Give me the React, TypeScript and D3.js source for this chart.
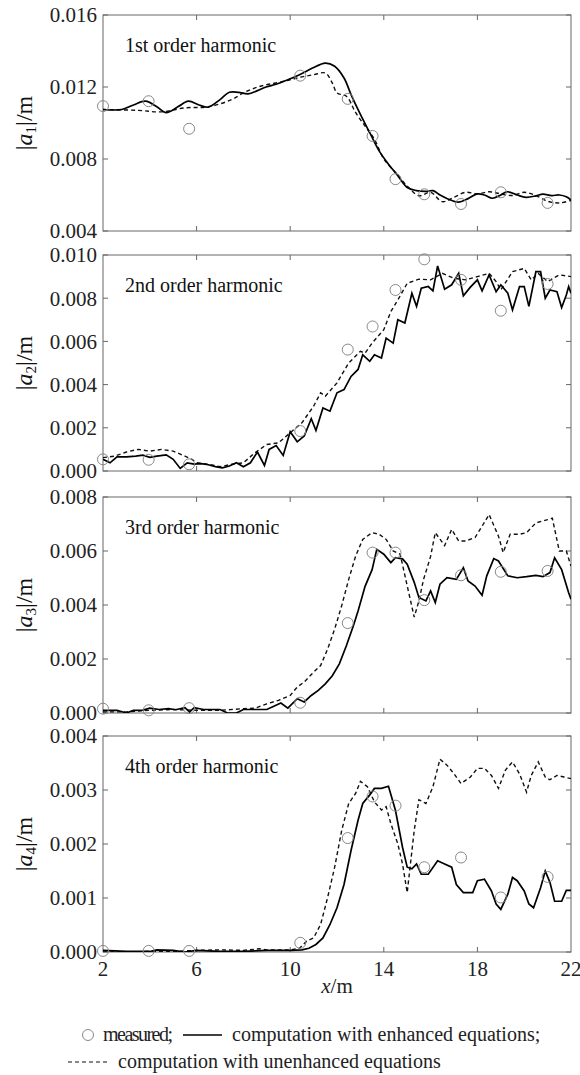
import React from "react";
import * as d3 from "d3";

// measured positions (m), shared by all harmonics
const measuredX = [2, 3.95, 5.68, 10.43, 12.46, 13.52, 14.5, 15.73, 17.3, 19.0, 21.0];

// 1st order harmonic
const a1Measured = [0.01094, 0.01121, 0.00968, 0.01263, 0.01134, 0.00928, 0.00688, 0.00604, 0.0055, 0.00615, 0.00556];
const a1Enhanced: [number, number][] = [
  [2, 0.01075], [2.8, 0.01075], [3.3, 0.011], [3.82, 0.01121], [4.3, 0.0109], [4.7, 0.01057],
  [5.2, 0.0109], [5.65, 0.01121], [6.1, 0.011], [6.5, 0.01088], [7.0, 0.0113], [7.4, 0.01171],
  [7.8, 0.0117], [8.2, 0.01162], [8.6, 0.0118], [8.97, 0.012], [9.4, 0.01215], [9.9, 0.0124],
  [10.4, 0.01268], [10.95, 0.01305], [11.5, 0.01333], [11.9, 0.01315], [12.3, 0.0125], [12.6, 0.01158],
  [13.0, 0.01048], [13.4, 0.00946], [13.8, 0.00845], [14.2, 0.00771], [14.6, 0.00707], [15.0, 0.00642],
  [15.4, 0.00624], [15.8, 0.0062], [16.1, 0.00624], [16.4, 0.006], [16.74, 0.00578], [17.2, 0.0056],
  [17.6, 0.0058], [18.0, 0.00606], [18.3, 0.006], [18.64, 0.00582], [19.0, 0.006], [19.27, 0.00618],
  [19.7, 0.006], [20.07, 0.00587], [20.5, 0.00595], [20.8, 0.00605], [21.17, 0.00597], [21.5, 0.006],
  [21.8, 0.0059], [22, 0.00572],
];
const a1Unenhanced: [number, number][] = [
  [2, 0.01075], [3.5, 0.0107], [4.5, 0.01062], [5.5, 0.01084], [6.5, 0.0109], [7.5, 0.0113],
  [8, 0.01167], [8.5, 0.01195], [9, 0.01213], [9.5, 0.01225], [10, 0.0124], [10.5, 0.01256],
  [11, 0.01268], [11.5, 0.01278], [11.8, 0.01222], [12.0, 0.01167], [12.4, 0.01149], [12.8, 0.01057],
  [13.2, 0.00983], [13.6, 0.0091], [14, 0.008], [14.5, 0.00725], [15, 0.0065], [15.5, 0.00596],
  [16, 0.00615], [16.5, 0.00563], [17, 0.00587], [17.5, 0.00615], [18, 0.00606], [18.5, 0.00618],
  [19, 0.00606], [19.5, 0.00597], [20, 0.00615], [20.5, 0.00597], [21, 0.00565], [21.5, 0.00556],
  [22, 0.0057],
];

// 2nd order harmonic
const a2Measured = [0.00054, 0.00052, 0.00031, 0.00185, 0.00562, 0.00669, 0.00838, 0.0098, 0.00885, 0.00742, 0.00866];
const a2Enhanced: [number, number][] = [
  [2, 0.00054], [2.3, 0.00038], [2.6, 0.00065], [3, 0.00065], [3.4, 0.00069], [3.7, 0.00073],
  [4, 0.00063], [4.3, 0.00069], [4.7, 0.00075], [5, 0.00054], [5.3, 0.00012], [5.6, 0.00038],
  [5.9, 0.00032], [6.2, 0.00034], [6.5, 0.00029], [6.8, 0.0002], [7.1, 0.00015], [7.4, 0.00023],
  [7.7, 0.00038], [8.0, 0.0002], [8.3, 0.00038], [8.6, 0.00088], [8.9, 0.00026], [9.1, 0.001],
  [9.4, 0.00118], [9.7, 0.00072], [10.0, 0.00182], [10.3, 0.00135], [10.6, 0.00162], [10.9, 0.00242],
  [11.1, 0.00188], [11.4, 0.00292], [11.7, 0.00277], [12, 0.00362], [12.3, 0.00377], [12.6, 0.00438],
  [12.9, 0.0047], [13.1, 0.00538], [13.4, 0.00508], [13.6, 0.00538], [13.9, 0.00523], [14.1, 0.00615],
  [14.4, 0.00592], [14.6, 0.007], [14.9, 0.00685], [15.2, 0.00823], [15.4, 0.00762], [15.6, 0.00846],
  [15.9, 0.00854], [16.1, 0.00834], [16.3, 0.00949], [16.6, 0.00842], [16.9, 0.00862], [17.2, 0.00915],
  [17.4, 0.00811], [17.7, 0.00851], [18.0, 0.00885], [18.2, 0.00834], [18.5, 0.00908], [18.8, 0.0083],
  [19.0, 0.00862], [19.3, 0.00823], [19.5, 0.00746], [19.8, 0.00854], [20.0, 0.00854], [20.2, 0.00762],
  [20.5, 0.00923], [20.7, 0.00923], [20.9, 0.008], [21.1, 0.00838], [21.4, 0.0083], [21.6, 0.00757],
  [21.8, 0.00815], [21.9, 0.00854], [22, 0.00823],
];
const a2Unenhanced: [number, number][] = [
  [2, 0.00062], [2.5, 0.00069], [3, 0.00088], [3.5, 0.001], [4, 0.00092], [4.5, 0.001],
  [5, 0.00092], [5.5, 0.00069], [5.8, 0.00054], [6, 0.00038], [6.5, 0.00031], [7, 0.0002],
  [7.5, 0.00031], [8, 0.00038], [8.5, 0.00085], [9, 0.00123], [9.5, 0.0013], [10, 0.00177],
  [10.5, 0.00223], [11, 0.003], [11.3, 0.00362], [11.5, 0.00346], [12, 0.00408], [12.5, 0.005],
  [13, 0.00554], [13.2, 0.00546], [13.5, 0.00592], [14, 0.00654], [14.3, 0.00738], [14.6, 0.00792],
  [15, 0.00869], [15.5, 0.00888], [16, 0.00885], [16.5, 0.00915], [17, 0.00892], [17.5, 0.00885],
  [18, 0.009], [18.5, 0.00915], [18.8, 0.00877], [19, 0.00838], [19.5, 0.00923], [20, 0.00938],
  [20.3, 0.00885], [20.6, 0.00915], [21, 0.00877], [21.5, 0.00908], [22, 0.009],
];

// 3rd order harmonic
const a3Measured = [0.00016, 0.0001, 0.00018, 0.00038, 0.00333, 0.00594, 0.00594, 0.00418, 0.0051, 0.00523, 0.00526];
const a3Enhanced: [number, number][] = [
  [2, 0.0001], [2.6, 0.0001], [3.0, 0.0], [3.3, 0.0001], [3.7, 0.00011], [4.0, 0.00018],
  [4.4, 0.00013], [4.8, 0.00016], [5.1, 0.00012], [5.5, 0.0002], [5.7, 0.00004], [5.9, 0.0002],
  [6.3, 0.00013], [6.7, 0.00013], [7.0, 0.00013], [7.3, 0.00001], [7.7, 0.0], [8.0, 0.00013],
  [8.5, 0.00013], [9.0, 0.00013], [9.3, 0.00025], [9.6, 0.00037], [9.9, 0.00018], [10.3, 0.00053],
  [10.6, 0.00041], [10.9, 0.00065], [11.2, 0.00084], [11.5, 0.00108], [11.8, 0.00138], [12.1, 0.00182],
  [12.4, 0.00249], [12.7, 0.00323], [12.9, 0.00378], [13.2, 0.00469], [13.5, 0.00531], [13.7, 0.00606],
  [14, 0.00588], [14.3, 0.00557], [14.5, 0.00575], [14.8, 0.00571], [15.0, 0.00551], [15.3, 0.00484],
  [15.5, 0.00428], [15.8, 0.00415], [16, 0.00452], [16.2, 0.00409], [16.4, 0.00477], [16.7, 0.00501],
  [17.1, 0.00495], [17.4, 0.00538], [17.6, 0.00489], [17.9, 0.0047], [18.2, 0.00436], [18.4, 0.00508],
  [18.7, 0.00572], [18.9, 0.00563], [19.3, 0.00508], [19.7, 0.00501], [20.1, 0.00505], [20.5, 0.0051],
  [20.8, 0.00505], [21.1, 0.0052], [21.3, 0.00575], [21.6, 0.00531], [21.9, 0.00445], [22, 0.00421],
];
const a3Unenhanced: [number, number][] = [
  [2, 0.00004], [3, 0.00004], [4, 0.0001], [5, 0.00013], [6, 0.0001], [7, 0.0001],
  [8, 0.00016], [8.5, 0.00018], [9, 0.00034], [9.5, 0.00047], [10, 0.00065], [10.3, 0.00096],
  [10.6, 0.00115], [11, 0.00151], [11.3, 0.00176], [11.6, 0.00237], [11.9, 0.00311], [12.2, 0.00397],
  [12.5, 0.00495], [12.8, 0.00582], [13.1, 0.00643], [13.5, 0.00668], [13.8, 0.00662], [14.1, 0.00643],
  [14.4, 0.006], [14.7, 0.00588], [15, 0.00471], [15.3, 0.00355], [15.5, 0.00415], [15.7, 0.00495],
  [16, 0.0058], [16.2, 0.00668], [16.6, 0.0062], [16.9, 0.0068], [17.2, 0.00637], [17.5, 0.00637],
  [17.9, 0.0065], [18.2, 0.00692], [18.5, 0.00735], [18.9, 0.00655], [19.1, 0.00594], [19.4, 0.00662],
  [19.8, 0.00662], [20.1, 0.00668], [20.5, 0.00704], [21, 0.00716], [21.2, 0.00722], [21.5, 0.006],
  [21.8, 0.006], [22, 0.00544],
];

// 4th order harmonic
const a4Measured = [0.00002, 0.00002, 0.00002, 0.00017, 0.00211, 0.00288, 0.00271, 0.00157, 0.00175, 0.00101, 0.00139];
const a4Enhanced: [number, number][] = [
  [2, 0.00003], [3, 0.00001], [4, 0.00001], [4.3, 0.00004], [5, 0.00003], [5.5, 0.0],
  [6, 0.00003], [7, 0.00001], [8, 0.00001], [9, 0.00003], [10, 0.00003], [10.5, 0.00004],
  [10.8, 0.00007], [11.1, 0.00014], [11.4, 0.00026], [11.7, 0.00051], [12, 0.00082], [12.3, 0.00125],
  [12.6, 0.00188], [12.9, 0.00244], [13.1, 0.00275], [13.4, 0.00291], [13.6, 0.00303], [13.9, 0.00303],
  [14.2, 0.00307], [14.5, 0.00262], [14.8, 0.00194], [15, 0.00157], [15.2, 0.00154], [15.4, 0.00163],
  [15.6, 0.00144], [15.9, 0.00144], [16.3, 0.00169], [16.6, 0.00163], [16.9, 0.00157], [17.1, 0.00125],
  [17.4, 0.0011], [17.8, 0.0011], [18.0, 0.00132], [18.3, 0.00135], [18.6, 0.00113], [18.8, 0.00089],
  [19.0, 0.00079], [19.3, 0.00107], [19.5, 0.00138], [19.7, 0.00132], [20, 0.00113], [20.2, 0.00089],
  [20.4, 0.00082], [20.7, 0.00119], [20.9, 0.0015], [21.1, 0.00129], [21.3, 0.00094], [21.6, 0.00094],
  [21.8, 0.00114], [22, 0.00114],
];
const a4Unenhanced: [number, number][] = [
  [2, 0.0], [3, 0.0], [4, 0.00001], [5, 0.00001], [6, 0.00003], [7, 0.00004],
  [8, 0.00003], [8.7, 0.00006], [9, 0.00004], [10, 0.00004], [10.4, 0.00007], [10.7, 0.0002],
  [11, 0.00026], [11.3, 0.00051], [11.6, 0.00101], [11.9, 0.00157], [12.2, 0.00225], [12.5, 0.00275],
  [12.8, 0.00294], [13.0, 0.00316], [13.3, 0.00306], [13.6, 0.00278], [13.9, 0.00263], [14.1, 0.00269],
  [14.3, 0.00238], [14.6, 0.002], [14.8, 0.00163], [15.0, 0.0011], [15.3, 0.00225], [15.5, 0.00282],
  [15.8, 0.00275], [16.1, 0.00306], [16.4, 0.00357], [16.7, 0.00346], [17.0, 0.0033], [17.3, 0.00312],
  [17.7, 0.00324], [18, 0.0034], [18.3, 0.0034], [18.6, 0.00327], [18.9, 0.00303], [19.2, 0.00337],
  [19.5, 0.00352], [19.8, 0.0033], [20.1, 0.00296], [20.3, 0.00327], [20.6, 0.00352], [20.9, 0.00324],
  [21.1, 0.00319], [21.4, 0.00327], [21.7, 0.00324], [22, 0.00321],
];

const xTicks = [2, 6, 10, 14, 18, 22];
const panelTitles = ["1st order harmonic", "2nd order harmonic", "3rd order harmonic", "4th order harmonic"];
const yTickSets = [
  [0.004, 0.008, 0.012, 0.016],
  [0, 0.002, 0.004, 0.006, 0.008, 0.01],
  [0, 0.002, 0.004, 0.006, 0.008],
  [0, 0.001, 0.002, 0.003, 0.004],
];

const FONT = "Liberation Serif, Times New Roman, Times, Noto Serif, DejaVu Serif, serif";
const left = 103;
const right = 571;
const panelTops = [15, 255, 497, 736];
const panelH = 216;

const panels = [
  { measured: a1Measured, enh: a1Enhanced, unenh: a1Unenhanced, smooth: true },
  { measured: a2Measured, enh: a2Enhanced, unenh: a2Unenhanced, smooth: false },
  { measured: a3Measured, enh: a3Enhanced, unenh: a3Unenhanced, smooth: false },
  { measured: a4Measured, enh: a4Enhanced, unenh: a4Unenhanced, smooth: false },
];

const x = d3.scaleLinear().domain([2, 22]).range([left, right]);
const fmt = d3.format(".3f");

function Panel({ i }: { i: number }) {
  const p = panels[i];
  const ticks = yTickSets[i];
  const top = panelTops[i];
  const y = d3
    .scaleLinear()
    .domain([ticks[0], ticks[ticks.length - 1]])
    .range([top + panelH, top]);
  const line = d3
    .line<[number, number]>()
    .x((d) => x(d[0]))
    .y((d) => y(d[1]))
    .curve(p.smooth ? d3.curveCatmullRom : d3.curveLinear);
  const tk = 5;
  const mid = top + panelH / 2;
  return (
    <g>
      <clipPath id={`clip${i}`}>
        <rect x={left} y={top} width={right - left} height={panelH} />
      </clipPath>
      <rect x={left} y={top} width={right - left} height={panelH} fill="none" stroke="#666" strokeWidth={1} />
      {xTicks.slice(1, -1).map((t) => (
        <g key={t}>
          <line x1={x(t)} x2={x(t)} y1={top} y2={top + tk} stroke="#666" />
          <line x1={x(t)} x2={x(t)} y1={top + panelH} y2={top + panelH - tk} stroke="#666" />
        </g>
      ))}
      {ticks.map((t) => (
        <g key={t}>
          <line x1={left} x2={left + tk} y1={y(t)} y2={y(t)} stroke="#666" />
          <line x1={right} x2={right - tk} y1={y(t)} y2={y(t)} stroke="#666" />
          <text x={left - 6} y={y(t)} dy="0.35em" textAnchor="end" fontSize={21} fontFamily={FONT} fill="#222">
            {fmt(t)}
          </text>
        </g>
      ))}
      <g clipPath={`url(#clip${i})`}>
        <path d={line(p.unenh) || ""} fill="none" stroke="#111" strokeWidth={1.4} strokeDasharray="4,3" />
        <path d={line(p.enh) || ""} fill="none" stroke="#000" strokeWidth={1.7} />
      </g>
      {p.measured.map((v, k) => (
        <circle key={k} cx={x(measuredX[k])} cy={y(v)} r={5.5} fill="none" stroke="#888" strokeWidth={1} />
      ))}
      <text x={left + 22} y={top + 37} fontSize={20} fontFamily={FONT} fill="#111">
        {panelTitles[i]}
      </text>
      <text transform={`translate(32,${mid}) rotate(-90)`} textAnchor="middle" fontSize={24} fontFamily={FONT} fill="#111">
        |<tspan fontStyle="italic">a</tspan>
        <tspan fontSize={15} dy={4}>{i + 1}</tspan>
        <tspan dy={-4}>|/m</tspan>
      </text>
    </g>
  );
}

export default function App() {
  const bottom = panelTops[3] + panelH;
  return (
    <svg width={580} height={1075} style={{ position: "absolute", left: 0, top: 0, background: "#fff" }}>
      {panels.map((_, i) => (
        <Panel key={i} i={i} />
      ))}
      {xTicks.map((t) => (
        <text key={t} x={x(t)} y={bottom + 24} textAnchor="middle" fontSize={21} fontFamily={FONT} fill="#222">
          {t}
        </text>
      ))}
      <text x={337} y={bottom + 41} textAnchor="middle" fontSize={21} fontFamily={FONT} fill="#222">
        <tspan fontStyle="italic">x</tspan>/m
      </text>
      <circle cx={88} cy={1035} r={5.5} fill="none" stroke="#888" />
      <text x={103} y={1041} fontSize={20} fontFamily={FONT} fill="#222" textLength={70}>measured;</text>
      <line x1={183} x2={222} y1={1035} y2={1035} stroke="#000" strokeWidth={1.4} />
      <text x={232} y={1041} fontSize={20} fontFamily={FONT} fill="#222">
        computation with enhanced equations;
      </text>
      <line x1={68} x2={108} y1={1062} y2={1062} stroke="#111" strokeWidth={1.2} strokeDasharray="4,3" />
      <text x={118} y={1068} fontSize={20} fontFamily={FONT} fill="#222">
        computation with unenhanced equations
      </text>
    </svg>
  );
}
